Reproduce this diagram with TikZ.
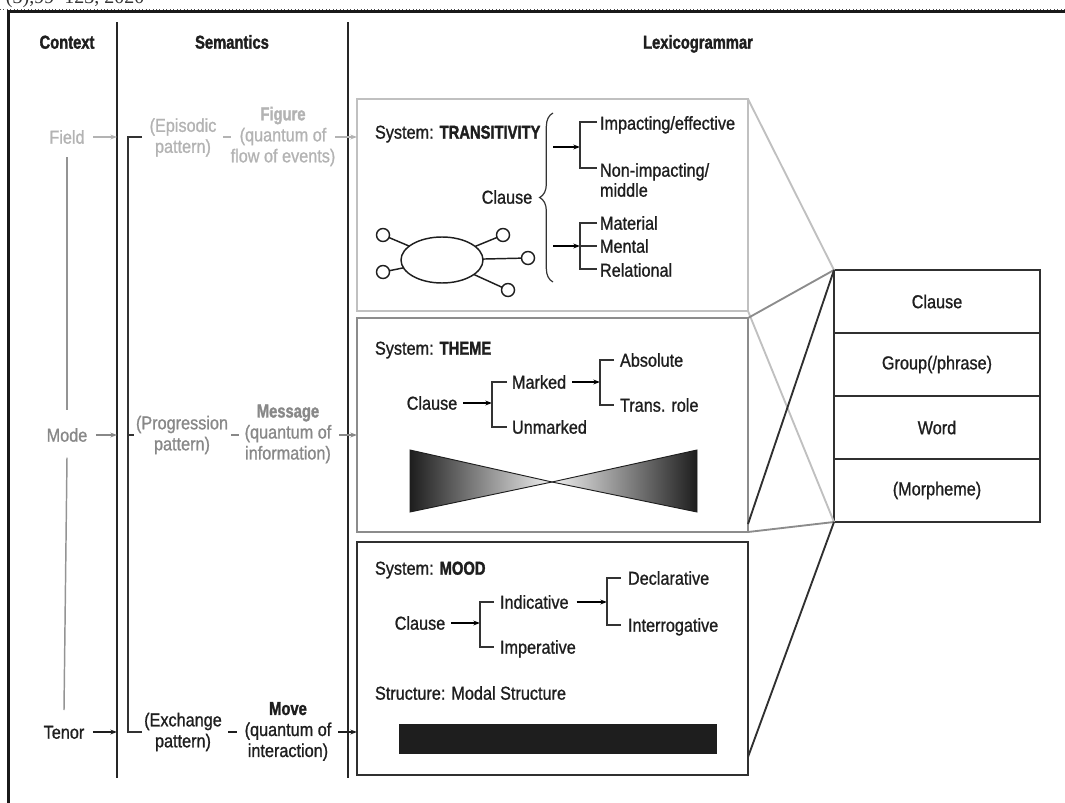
\documentclass[tikz,border=0pt]{standalone}
\usepackage{fontspec}
\setmainfont[FakeStretch=0.87,FakeBold=1.0,BoldFeatures={FakeStretch=0.79,FakeBold=1.6}]{Liberation Sans}
\newfontfamily\serifcut{Liberation Serif}
\usetikzlibrary{arrows.meta,shapes.geometric,decorations.pathreplacing,calc}
\definecolor{lg}{HTML}{B3B3B3}
\definecolor{mg}{HTML}{888888}
\definecolor{dk}{HTML}{1E1E1E}
\definecolor{bxa}{HTML}{C0C0C0}
\definecolor{bxb}{HTML}{8C8C8C}
\definecolor{bxc}{HTML}{303030}
\begin{document}
\begin{tikzpicture}[x=0.75pt,y=-0.75pt,
  every node/.style={inner sep=0pt,outer sep=0pt},
  t/.style={font=\fontsize{14}{15.75}\selectfont,text height=12pt,text depth=2pt,text=dk},
  tb/.style={font=\fontsize{14}{15.75}\selectfont\bfseries,text height=12pt,text depth=2pt,text=dk},
  tm/.style={font=\fontsize{14}{15.75}\selectfont,align=center},
  sepline/.style={line width=1.7pt,draw=black!85},
  brk/.style={line width=0.9pt,draw=black!80},
  arr/.style={line width=0.9pt,-{Stealth[length=5pt,width=3.6pt]}},
  vline/.style={line width=1.1pt,draw=black!42},
  boxn/.style={draw,line width=1.5pt,anchor=north west,minimum width=293.25pt},
  rank/.style={draw=bxc,line width=1.5pt,minimum width=154.5pt,minimum height=47.25pt,
    anchor=north west,font=\fontsize{14}{15.75}\selectfont,text=dk},
  ring/.style={circle,draw=dk,line width=1.1pt,minimum size=9.75pt},
]
\useasboundingbox (0,0) rectangle (1065,803);

% top fragment and frame
\node[font=\serifcut\fontsize{15}{15}\selectfont,anchor=base west,text=black!80] (cut) at (6,3) {(3),99–123, 2020};
\draw[dotted,line width=0.6pt,black!70] (0,9.5) -- (1065,9.5);
\draw[line width=1.6pt,black!90] (8.5,803) -- (8.5,11.5) -- (1065,11.5);

% headers
\node[tb] (hctx) at (67,42) {Context};
\node[tb] (hsem) at (232,42) {Semantics};
\node[tb] (hlex) at (698,42) {Lexicogrammar};

% column separators
\draw[sepline] (117,22) -- (117,778);
\draw[sepline] (348,22) -- (348,778);

% boxes
\node[boxn,draw=bxa,minimum height=159pt] (b1) at (357,99) {};
\node[boxn,draw=bxb,minimum height=160.5pt] (b2) at (357,318) {};
\node[boxn,draw=bxc,minimum height=174.75pt] (b3) at (357,542) {};

% context column
\node[t,text=lg] (field) at (67,137) {Field};
\node[t,text=mg] (mode) at (67,435) {Mode};
\node[t,text=dk] (tenor) at (64,732) {Tenor};
\draw[vline] ([yshift=-8pt]field.south) -- ([yshift=12pt]mode.north);
\draw[vline] ([yshift=-10pt]mode.south) -- ([yshift=9.5pt]tenor.north);
\coordinate (sf) at (117,137);
\coordinate (sm) at (117,435);
\coordinate (st) at (117,732);
\draw[arr,lg] ([xshift=6.5pt]field.east) -- (sf);
\draw[arr,mg] ([xshift=6.5pt]mode.east) -- (sm);
\draw[arr,dk] ([xshift=6.5pt]tenor.east) -- (st);

% semantics bracket
\draw[brk] (142,137) -- (128,137) -- (128,732) -- (142,732);
\draw[brk] (128,435) -- (134,435);

% semantics rows
\node[tm,text=lg] (epi) at (183,137.5) {(Episodic\\pattern)};
\draw[line width=0.9pt,lg] (223,137) -- (231,137);
\node[tm,text=lg] (fig) at (283,136.5) {\textbf{Figure}\\(quantum of\\flow of events)};
\coordinate (fa) at (335,137);
\draw[arr,lg] (fa) -- (b1.west |- fa);

\node[tm,text=mg] (prog) at (182,435) {(Progression\\pattern)};
\draw[line width=0.9pt,mg] (231,435) -- (239,435);
\node[tm,text=mg] (msg) at (288,434) {\textbf{Message}\\(quantum of\\information)};
\coordinate (ma) at (339,435);
\draw[arr,mg] (ma) -- (b2.west |- ma);

\node[tm,text=dk] (exch) at (183,732) {(Exchange\\pattern)};
\draw[line width=0.9pt,dk] (228,732) -- (237,732);
\node[tm,text=dk] (move) at (288,731.5) {\textbf{Move}\\(quantum of\\interaction)};
\coordinate (va) at (338,732);
\draw[arr,dk] (va) -- (b3.west |- va);

% ---- box 1: TRANSITIVITY
\node[t,anchor=west] (sys1) at (375,132) {System: \textbf{TRANSITIVITY}};
\node[t] (cl1) at (507,197) {Clause};
\draw[brk,decorate,decoration={brace,amplitude=10pt}] (553,282) -- (553,113);
\coordinate (u0) at (553,147);
\coordinate (u1) at (580,147);
\draw[arr] (u0) -- (u1);
\draw[brk] (597,122) -- (580,122) -- (580,168) -- (597,168);
\node[t,anchor=west] (imp) at (600,123) {Impacting/effective};
\node[t,anchor=west] (non1) at (600,170) {Non-impacting/};
\node[t,anchor=west] (non2) at (600,190) {middle};
\coordinate (l0) at (553,246);
\coordinate (l1) at (580,246);
\draw[arr] (l0) -- (l1);
\draw[brk] (597,223) -- (580,223) -- (580,269) -- (597,269);
\draw[brk] (580,246) -- (597,246);
\node[t,anchor=west] (mat) at (600,223) {Material};
\node[t,anchor=west] (men) at (600,246) {Mental};
\node[t,anchor=west] (rel) at (600,270) {Relational};
% participant graphic
\node[ellipse,draw=dk,line width=1.1pt,minimum width=61.5pt,minimum height=34.5pt] (ell) at (442,260) {};
\node[ring] (c1) at (383,235) {};
\node[ring] (c2) at (383,272) {};
\node[ring] (c3) at (503,235) {};
\node[ring] (c4) at (528,258) {};
\node[ring] (c5) at (508,290) {};
\foreach \c in {c1,c2,c3,c4,c5} \draw[line width=1.1pt,dk] (ell) -- (\c);

% ---- box 2: THEME
\node[t,anchor=west] (sys2) at (375,348) {System: \textbf{THEME}};
\node[t] (cl2) at (432,403) {Clause};
\coordinate (t1) at (492,403);
\draw[arr] ([xshift=4.5pt]cl2.east) -- (t1);
\draw[brk] (507,382) -- (492,382) -- (492,427) -- (507,427);
\node[t,anchor=west] (mk) at (512,382) {Marked};
\node[t,anchor=west] (unm) at (512,427) {Unmarked};
\coordinate (t2) at (600,382);
\draw[arr] ([xshift=4.5pt]mk.east) -- (t2);
\draw[brk] (614,360) -- (600,360) -- (600,405) -- (614,405);
\node[t,anchor=west] (abs) at (620,360) {Absolute};
\node[t,anchor=west] (trr) at (620,405) {Trans. role};
% bow tie
\shade[left color=dk,right color=black!6] (410,450) -- (410,512) -- (552,482) -- cycle;
\shade[left color=black!6,right color=dk] (697,450) -- (697,512) -- (552,482) -- cycle;
\draw[line width=0.7pt,dk] (410,450) -- (410,512) -- (552,482) -- cycle;
\draw[line width=0.7pt,dk] (697,450) -- (697,512) -- (552,482) -- cycle;

% ---- box 3: MOOD
\node[t,anchor=west] (sys3) at (375,568) {System: \textbf{MOOD}};
\node[t] (cl3) at (420,623) {Clause};
\coordinate (m1) at (480,623);
\draw[arr] ([xshift=4.5pt]cl3.east) -- (m1);
\draw[brk] (494,602) -- (480,602) -- (480,647) -- (494,647);
\node[t,anchor=west] (ind) at (500,602) {Indicative};
\node[t,anchor=west] (impv) at (500,647) {Imperative};
\coordinate (m2) at (607,602);
\draw[arr] ([xshift=6pt]ind.east) -- (m2);
\draw[brk] (621,578) -- (607,578) -- (607,625) -- (621,625);
\node[t,anchor=west] (decl) at (628,578) {Declarative};
\node[t,anchor=west] (intr) at (628,625) {Interrogative};
\node[t,anchor=west] (struc) at (375,693) {Structure: Modal Structure};
\fill[dk] (399,724) rectangle (717,754);

% ---- rank scale
\node[rank] (r1) at (834,270) {Clause};
\node[rank] (r2) at (834,333) {Group(/phrase)};
\node[rank] (r3) at (834,396) {Word};
\node[rank] (r4) at (834,459) {(Morpheme)};

% projection lines
\draw[line width=1.4pt,bxa] (b1.north east) -- (r1.north west);
\draw[line width=1.4pt,bxa] (b1.south east) -- (r4.south west);
\draw[line width=1.4pt,bxb] (b2.north east) -- (r1.north west);
\draw[line width=1.4pt,bxb] (b2.south east) -- (r4.south west);
\draw[line width=1.4pt,bxc] ($(b2.south east)+(0,-8)$) -- (r1.north west);
\draw[line width=1.4pt,bxc] ($(b3.south east)+(0,-18)$) -- (r4.south west);
\end{tikzpicture}
\end{document}
